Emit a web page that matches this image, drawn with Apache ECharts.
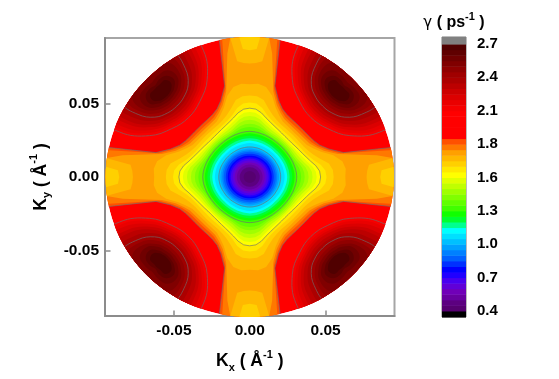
<!DOCTYPE html>
<html>
<head>
<meta charset="utf-8">
<style>
  html, body { margin: 0; padding: 0; background: #fff; }
  #chart { width: 559px; height: 379px; }
</style>
<script src="https://cdn.jsdelivr.net/npm/echarts@6/dist/echarts.min.js"></script>
</head>
<body>
<div id="chart"></div>
<script>
// scattering rate gamma over the (Kx, Ky) disc
var discRadius = 95;   // 1/1000 A^-1
var stepDeg = 5;

// colour of each band, from 0.4 upwards
var bandColors = [
  '#560070', '#5c0080', '#6800a0', '#7000b8', '#6000d8', '#4800f0', '#2000ff', '#0000ff',
  '#0030ff', '#0060ff', '#0080ff', '#00a0ff', '#00c0ff', '#00e0ff', '#00ffff', '#00ff90',
  '#00ff30', '#10ff00', '#40ff00', '#60ff00', '#80ff00', '#a0ff00', '#c0ff00', '#e0ff00',
  '#ffff00', '#ffe800', '#ffd000', '#ffb800', '#ffa000', '#ff7800', '#ff5000', '#ff0000',
  '#ff0000', '#ff0000', '#ff0000', '#ff0000', '#f60000', '#ea0000', '#dc0000', '#cc0000',
  '#bc0000', '#ac0000', '#a00000', '#900000', '#800000', '#700000', '#600000', '#500000'
];
var bandStart = 0.4;
var bandStep = 0.0479;

// contours closed round the centre: radius (1/1000 A^-1) at 0,5,..45 deg from the axis,
// row i bounds band i from above
var centerRadii = [
  [4, 4, 4, 4, 4, 4, 4, 4, 4, 4],
  [6.6, 6.6, 6.6, 6.6, 6.6, 6.6, 6.6, 6.6, 6.6, 6.6],
  [8.5, 8.5, 8.5, 8.5, 8.5, 8.5, 8.5, 8.5, 8.5, 8.5],
  [9.9, 9.9, 9.9, 9.9, 9.9, 9.9, 9.9, 9.9, 9.9, 9.9],
  [11.2, 11.2, 11.2, 11.2, 11.2, 11.2, 11.2, 11.2, 11.2, 11.2],
  [12.5, 12.5, 12.5, 12.5, 12.5, 12.5, 12.5, 12.5, 12.5, 12.5],
  [13.5, 13.5, 13.5, 13.5, 13.5, 13.5, 13.5, 13.5, 13.5, 13.5],
  [14.5, 14.5, 14.5, 14.5, 14.5, 14.5, 14.5, 14.5, 14.5, 14.5],
  [15.8, 15.8, 15.8, 15.8, 15.8, 15.8, 15.8, 15.8, 15.8, 15.8],
  [17.1, 17.1, 17.1, 17.1, 17.1, 17.1, 17.1, 17.1, 17.1, 17.1],
  [18.1, 18.1, 18.1, 18.1, 18.1, 18.1, 18.1, 18.1, 18.1, 18.1],
  [19.3, 19.3, 19.2, 19.2, 19.1, 19.1, 19, 19, 19, 19],
  [20.4, 20.4, 20.3, 20.3, 20.2, 20.1, 20, 20, 20, 20],
  [23, 22.9, 22.8, 22.7, 22.6, 22.5, 22.4, 22.3, 22.2, 22.2],
  [24.7, 24.6, 24.5, 24.3, 24.2, 24, 23.9, 23.8, 23.7, 23.6],
  [26.3, 26.2, 26.1, 25.9, 25.8, 25.6, 25.5, 25.3, 25.2, 25.2],
  [28, 27.9, 27.7, 27.5, 27.3, 27.1, 26.9, 26.7, 26.6, 26.6],
  [29.6, 29.5, 29.3, 29.1, 28.9, 28.7, 28.5, 28.4, 28.3, 28.2],
  [31, 30.9, 30.7, 30.4, 30.2, 29.9, 29.7, 29.5, 29.4, 29.4],
  [33.9, 33.7, 33.2, 32.3, 31.4, 30.9, 30.6, 30.5, 30.5, 30.5],
  [36.2, 36, 35.2, 33.9, 32.7, 32, 31.7, 31.6, 31.5, 31.5],
  [38.8, 38.5, 37.4, 35.6, 34, 33.2, 32.9, 32.7, 32.6, 32.6],
  [41.4, 41.1, 39.6, 37.4, 35.9, 34.8, 34.3, 33.9, 33.6, 33.6],
  [44.1, 43.7, 41.9, 39.5, 37.8, 36.5, 35.7, 35.2, 34.8, 34.7],
  [46.7, 46.2, 44.2, 41.5, 39.6, 38.2, 37.2, 36.5, 36, 35.9],
  [50.6, 50, 47.5, 43.7, 41.4, 39.9, 38.9, 38.3, 38, 38],
  [55.3, 55, 53, 48, 44.5, 42.4, 41.2, 40.6, 40.3, 40.3],
  [63, 63.5, 62, 57, 50, 46, 43.5, 42.7, 42.2, 42],
  [112, 112, 85, 60, 52, 48, 45.5, 44.6, 44.1, 44],
  [112, 112, 110, 62, 54, 49.5, 47, 46, 45.6, 45.5],
  [150, 150, 150, 64, 55.5, 51, 49, 48, 47.6, 47.4]
];
var centerContours = [12, 18, 24, 30];   // rows also drawn with a line

// lower patches where the axes meet the rim: radius at 0,3,6,9 deg from the axis
var capDegrees = [0, 3, 6, 9];
var capRadii = [
  [77, 77.5, 79, 112],
  [86, 87, 112, 112]
];
var capBands = [27, 26];

// hot lobes in the four corners
var lobeCenter = 58;
var lobeDegrees = [0, 30, 60, 90, 120, 150, 180];   // from the direction towards the origin
var lobeRadii = [
  [25, 26, 31, 39, 50, 56, 56],
  [23, 24, 29, 37, 47, 52, 52],
  [21.5, 22.5, 27, 34.5, 44, 48, 48],
  [20, 21, 25, 31.5, 40, 44, 44],
  [18, 19, 23, 29, 36, 38, 38],
  [16, 17, 20.5, 25.5, 32, 32, 32],
  [14, 15, 18, 22, 28, 28, 28],
  [11.5, 12.5, 15.5, 19.5, 24, 22, 20],
  [9.5, 10.5, 13, 17, 20, 17, 14],
  [8, 8.5, 11, 14.5, 15, 11, 9],
  [6, 6.5, 8.5, 11.5, 11, 8, 6],
  [4.6, 5, 6.5, 8.5, 8, 5, 4.6]
];
var lobeFirstBand = 36;
var lobeContours = [0, 6];

var majorTicks = [-0.05, 0, 0.05];
var minorTicks = [-0.075, -0.025, 0.025, 0.075];
var colorbarTicks = [0.4, 0.6875, 0.975, 1.2625, 1.55, 1.8375, 2.125, 2.4125, 2.7];
var colorbarLabels = ['0.4', '0.7', '1.0', '1.3', '1.6', '1.8', '2.1', '2.4', '2.7'];
var underColor = '#000000';
var overColor = '#808080';

var axisGrey = '#8c8c8c';
var lineGrey = 'rgba(110,110,110,0.8)';
var fontName = '"Liberation Sans", Arial, sans-serif';

function rad(d) { return d * Math.PI / 180; }

function starPoints(row, api) {
  var pts = [];
  for (var d = 0; d < 360; d += stepDeg) {
    var q = d % 90;
    if (q > 45) q = 90 - q;
    var r = row[q / stepDeg] / 1000;
    pts.push(api.coord([r * Math.cos(rad(d)), r * Math.sin(rad(d))]));
  }
  return pts;
}

function capPoints(row, axisDeg, api) {
  var pts = [];
  for (var i = capDegrees.length - 1; i > 0; i--) {
    var a = rad(axisDeg - capDegrees[i]);
    pts.push(api.coord([row[i] / 1000 * Math.cos(a), row[i] / 1000 * Math.sin(a)]));
  }
  for (var j = 0; j < capDegrees.length; j++) {
    var b = rad(axisDeg + capDegrees[j]);
    pts.push(api.coord([row[j] / 1000 * Math.cos(b), row[j] / 1000 * Math.sin(b)]));
  }
  return pts;
}

function lobePoints(row, sx, sy, api) {
  var pts = [];
  var base = Math.atan2(-sy, -sx);
  var cx = sx * lobeCenter, cy = sy * lobeCenter;
  function add(i, sign) {
    var a = base + sign * rad(lobeDegrees[i]);
    pts.push(api.coord([(cx + row[i] * Math.cos(a)) / 1000, (cy + row[i] * Math.sin(a)) / 1000]));
  }
  for (var i = 0; i < row.length; i++) add(i, 1);
  for (var j = row.length - 2; j > 0; j--) add(j, -1);
  return pts;
}

function fillPoly(points, color, smooth) {
  return { type: 'polygon', shape: { points: points, smooth: smooth || 0 }, style: { fill: color } };
}
function linePoly(points, smooth) {
  return {
    type: 'polygon', shape: { points: points, smooth: smooth || 0 },
    style: { fill: 'none', stroke: lineGrey, lineWidth: 0.8 }
  };
}

var signs = [[1, 1], [-1, 1], [-1, -1], [1, -1]];

function renderDisc(params, api) {
  var kids = [];
  var c = api.coord([0, 0]);
  var edge = api.coord([discRadius / 1000, discRadius / 1000]);
  var rx = edge[0] - c[0], ry = c[1] - edge[1];

  kids.push({
    type: 'ellipse', shape: { cx: c[0], cy: c[1], rx: rx, ry: ry },
    style: { fill: bandColors[31] }
  });
  for (var i = centerRadii.length - 1; i >= 0; i--) {
    kids.push(fillPoly(starPoints(centerRadii[i], api), bandColors[i]));
  }
  capRadii.forEach(function (row, n) {
    [0, 90, 180, 270].forEach(function (a) {
      kids.push(fillPoly(capPoints(row, a, api), bandColors[capBands[n]]));
    });
  });
  lobeRadii.forEach(function (row, n) {
    signs.forEach(function (s) {
      kids.push(fillPoly(lobePoints(row, s[0], s[1], api), bandColors[lobeFirstBand + n], 0.4));
    });
  });
  centerContours.forEach(function (n) {
    kids.push(linePoly(starPoints(centerRadii[n], api)));
  });
  lobeContours.forEach(function (n) {
    signs.forEach(function (s) {
      kids.push(linePoly(lobePoints(lobeRadii[n], s[0], s[1], api), 0.4));
    });
  });

  return {
    type: 'group',
    children: kids,
    clipPath: { type: 'ellipse', shape: { cx: c[0], cy: c[1], rx: rx, ry: ry } }
  };
}

// colour bar cells
var barMin = 0.348, barMax = 2.76;
var barCells = [[barMin, bandStart, underColor]];
bandColors.forEach(function (col, i) {
  barCells.push([bandStart + i * bandStep, bandStart + (i + 1) * bandStep, col]);
});
barCells.push([bandStart + bandColors.length * bandStep, barMax, overColor]);

function renderCell(params, api) {
  var lo = api.coord([0, api.value(1)]);
  var hi = api.coord([1, api.value(2)]);
  return {
    type: 'rect',
    shape: { x: lo[0], y: hi[1], width: hi[0] - lo[0], height: lo[1] - hi[1] + 0.5 },
    style: { fill: barCells[params.dataIndex][2] }
  };
}

var nameRich = {
  b: { fontFamily: fontName, fontWeight: 'bold', fontSize: 17.5, color: '#000', lineHeight: 24 },
  c: { fontFamily: fontName, fontWeight: 'bold', fontSize: 16, color: '#000', lineHeight: 24 },
  sub: { fontFamily: fontName, fontWeight: 'bold', fontSize: 11, color: '#000', verticalAlign: 'bottom', lineHeight: 24 },
  sup: { fontFamily: fontName, fontWeight: 'bold', fontSize: 11, color: '#000', verticalAlign: 'top', lineHeight: 24 },
  g: { fontFamily: '"DejaVu Sans"', fontSize: 15, color: '#000', lineHeight: 24 }
};

function tickLabel(v) { return v.toFixed(2); }

var labelStyle = { fontFamily: fontName, fontWeight: 'bold', fontSize: 15.5, color: '#000' };

var option = {
  animation: false,
  backgroundColor: '#fff',
  grid: [
    { left: 105, top: 38, width: 289.5, height: 278, outerBoundsMode: 'none', show: true, borderColor: '#a6a6a6', borderWidth: 2, backgroundColor: '#fff' },
    { left: 442, top: 37, width: 24, height: 280, outerBoundsMode: 'none', show: true, borderColor: '#7a7a7a', borderWidth: 1 }
  ],
  xAxis: [
    {
      type: 'value', gridIndex: 0, min: -0.0954, max: 0.0954,
      splitLine: { show: false },
      axisLine: { onZero: false, lineStyle: { color: axisGrey, width: 2 } },
      axisTick: { inside: true, length: 5.5, lineStyle: { color: axisGrey, width: 1.5 }, customValues: majorTicks },
      axisLabel: Object.assign({ customValues: majorTicks, formatter: tickLabel, margin: 7 }, labelStyle),
      name: '{b|K}{sub|x}{b| ( Å}{sup|-1}{b| )}',
      nameLocation: 'middle', nameGap: 33,
      nameTextStyle: { rich: nameRich }
    },
    {
      type: 'value', gridIndex: 0, min: -0.0954, max: 0.0954, position: 'bottom',
      splitLine: { show: false },
      axisLine: { show: false },
      axisTick: { inside: true, length: 3.5, lineStyle: { color: axisGrey, width: 1.5 }, customValues: minorTicks },
      axisLabel: { show: false }
    },
    {
      type: 'value', gridIndex: 1, min: 0, max: 1, position: 'top',
      splitLine: { show: false }, axisLine: { show: false }, axisTick: { show: false }, axisLabel: { show: false },
      name: '{g|γ}{c| ( ps}{sup|-1}{c| )}',
      nameLocation: 'middle', nameGap: 2,
      nameTextStyle: { rich: nameRich }
    }
  ],
  yAxis: [
    {
      type: 'value', gridIndex: 0, min: -0.0943, max: 0.0943,
      splitLine: { show: false },
      axisLine: { onZero: false, lineStyle: { color: axisGrey, width: 2 } },
      axisTick: { inside: true, length: 5.5, lineStyle: { color: axisGrey, width: 1.5 }, customValues: majorTicks },
      axisLabel: Object.assign({ customValues: majorTicks, formatter: tickLabel, margin: 6 }, labelStyle),
      name: '{b|K}{sub|y}{b| ( Å}{sup|-1}{b| )}',
      nameLocation: 'middle', nameGap: 45, nameRotate: 90,
      nameTextStyle: { rich: nameRich }
    },
    {
      type: 'value', gridIndex: 0, min: -0.0943, max: 0.0943, position: 'left',
      splitLine: { show: false },
      axisLine: { show: false },
      axisTick: { inside: true, length: 3.5, lineStyle: { color: axisGrey, width: 1.5 }, customValues: minorTicks },
      axisLabel: { show: false }
    },
    {
      type: 'value', gridIndex: 1, min: barMin, max: barMax, position: 'right',
      splitLine: { show: false },
      axisLine: { show: false },
      axisTick: { length: 5, lineStyle: { color: axisGrey, width: 1.5 }, customValues: colorbarTicks },
      axisLabel: {
        customValues: colorbarTicks, margin: 11,
        formatter: function (v) { return colorbarLabels[colorbarTicks.indexOf(v)]; },
        fontFamily: fontName, fontWeight: 'bold', fontSize: 15, color: '#000'
      }
    }
  ],
  series: [
    {
      type: 'custom', xAxisIndex: 0, yAxisIndex: 0, silent: true, clip: false,
      data: [[0, 0]], renderItem: renderDisc
    },
    {
      type: 'custom', xAxisIndex: 2, yAxisIndex: 2, silent: true,
      data: barCells.map(function (c) { return [0, c[0], c[1]]; }), renderItem: renderCell
    }
  ]
};

var myChart = echarts.init(document.getElementById('chart'));
myChart.setOption(option);
</script>
</body>
</html>
